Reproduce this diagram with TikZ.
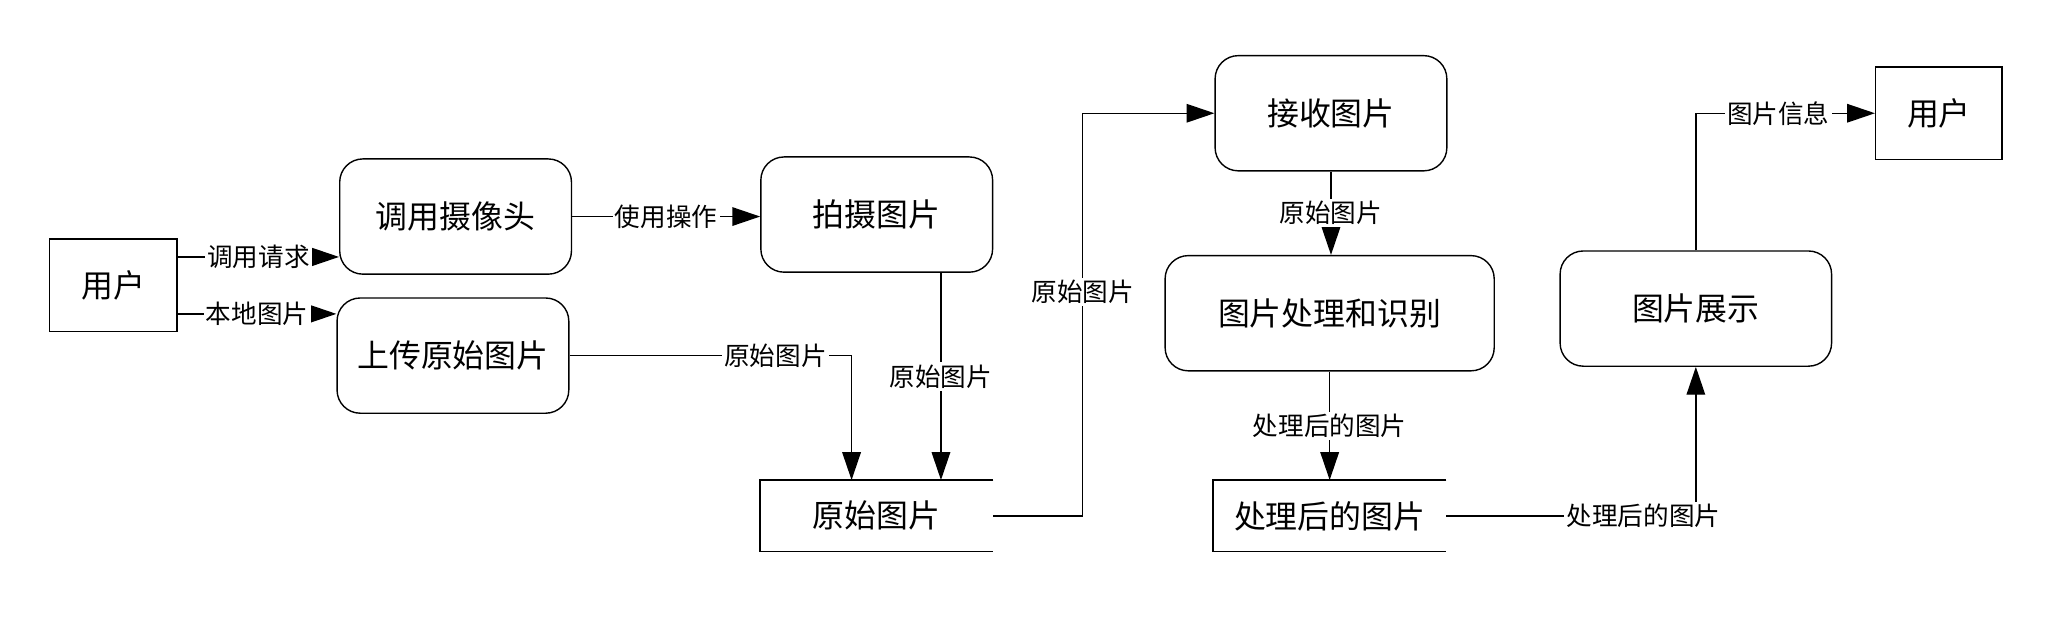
\documentclass[tikz,border=0pt]{standalone}
\usepackage{fontspec}
\newfontfamily\cjk{Noto Sans CJK SC}
\usepackage{xcolor}
\RequirePackage{tikz}
\usetikzlibrary{positioning,calc,shapes,arrows.meta}

\begin{document}
\begin{tikzpicture}[line width=0.6pt,
	proc/.style={draw, rounded corners=0.35cm, minimum width=3.5cm, minimum height=1.74cm, font=\cjk\fontsize{13.7}{16}\selectfont},
	ent/.style={draw, minimum width=1.93cm, minimum height=1.4cm, font=\cjk\fontsize{13.7}{16}\selectfont},
	store/.style={minimum width=3.5cm, minimum height=1.06cm, font=\cjk\fontsize{13.7}{16}\selectfont},
	lbl/.style={fill=white, inner sep=1pt, font=\cjk\fontsize{11}{13}\selectfont},
	flow/.style={-{Triangle[length=0.42cm,width=0.28cm]}}]
				\useasboundingbox (0,0) rectangle (31.2,-9.334);
				\node[ent] (user1) at (1.71,-4.31) {用户};
				\node[proc] (camera) at (6.88,-3.27) {调用摄像头};
				\node[proc] (upload) at (6.84,-5.37) {上传原始图片};
				\node[proc] (shoot) at (13.24,-3.24) {拍摄图片};
				\node[store] (rawstore) at (13.24,-7.79) {原始图片};
				\node[proc] (receive) at (20.1,-1.71) {接收图片};
				\node[proc, minimum width=4.97cm] (process) at (20.08,-4.73) {图片处理和识别};
				\node[store] (procstore) at (20.08,-7.79) {处理后的图片};
				\node[proc, minimum width=4.1cm] (show) at (25.61,-4.66) {图片展示};
				\node[ent, minimum width=1.91cm] (user2) at (29.28,-1.71) {用户};
				\draw (rawstore.north east) -- (rawstore.north west) -- (rawstore.south west) -- (rawstore.south east);
				\draw (procstore.north east) -- (procstore.north west) -- (procstore.south west) -- (procstore.south east);
				\draw[flow] ([yshift=0.43cm]user1.east) -- node[lbl, pos=0.5] {调用请求} ([yshift=0.43cm]user1.east -| camera.west);
				\draw[flow] ([yshift=-0.43cm]user1.east) -- node[lbl, pos=0.5] {本地图片} ([yshift=-0.43cm]user1.east -| upload.west);
				\draw[flow] (camera.east) -- node[lbl, pos=0.5] {使用操作} (camera.east -| shoot.west);
				\draw[flow] (upload.east) -| node[lbl, pos=0.365] {原始图片} ([xshift=-0.38cm]rawstore.north);
				\draw[flow] ([xshift=0.97cm]shoot.south) -- node[lbl, pos=0.5] {原始图片} ([xshift=0.97cm]rawstore.north);
				\draw[flow] (rawstore.east) -- ++(1.35,0) |- node[lbl, pos=0.278] {原始图片} (receive.west);
				\draw[flow] (receive.south) -- node[lbl, pos=0.5] {原始图片} (receive.south |- process.north);
				\draw[flow] (process.south) -- node[lbl, pos=0.5] {处理后的图片} (process.south |- procstore.north);
				\draw[flow] (procstore.east) -| node[lbl, pos=0.395] {处理后的图片} (show.south);
				\draw[flow] (show.north) |- node[lbl, pos=0.73] {图片信息} (user2.west);
			\end{tikzpicture}
\end{document}
